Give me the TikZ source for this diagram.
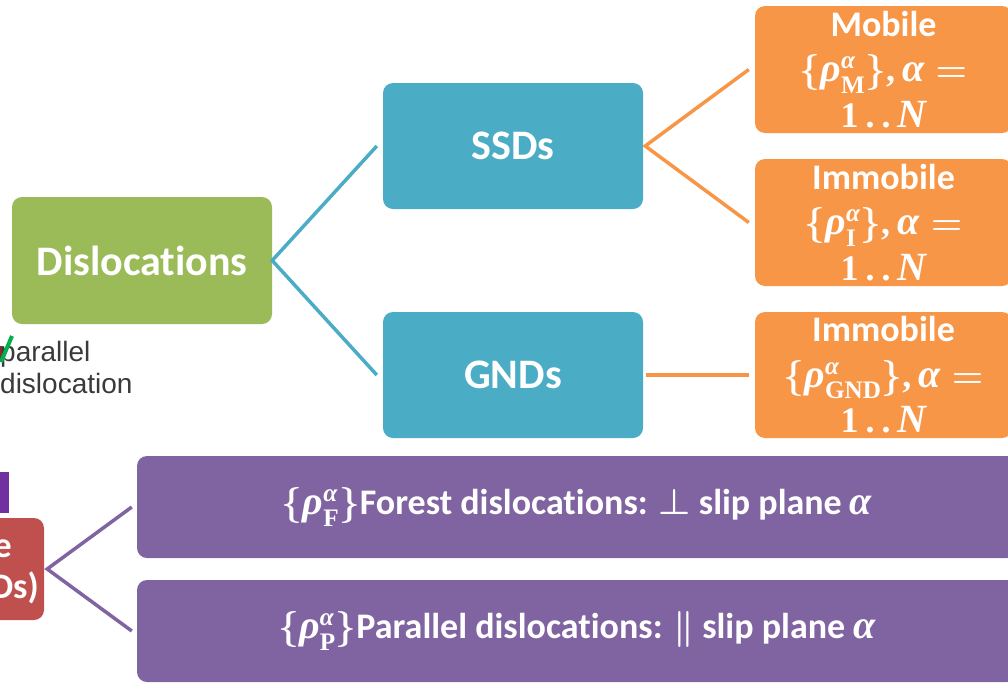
\documentclass[tikz,border=0pt]{standalone}
\usepackage{fix-cm}
\usepackage{amsmath}
\usepackage{bm}
\usepackage[no-math]{fontspec}
\setmainfont{Carlito}[Ligatures=NoCommon]
\newfontfamily\helv{Liberation Sans}
\newfontfamily\mserif{Liberation Serif}
\definecolor{cgreen}{HTML}{9BBB59}
\definecolor{cblue}{HTML}{4BACC6}
\definecolor{corange}{HTML}{F79646}
\definecolor{cpurple}{HTML}{8064A2}
\definecolor{cred}{HTML}{C0504D}
\definecolor{cviolet}{HTML}{7030A0}
\definecolor{cslash}{HTML}{00B050}
\definecolor{cgray}{HTML}{3A3A3A}
\definecolor{cdarkred}{HTML}{8B2A2A}
\newcommand{\gi}[1]{\text{\mserif\bfseries\itshape #1}}
\newcommand{\gI}[1]{\text{\mserif\bfseries\itshape\fontsize{40}{40}\selectfont #1}}
\newcommand{\gb}[1]{\text{\mserif\bfseries #1}}
\newcommand{\dens}[1]{\bm{\{}\gI{ρ}^{\gi{α}}_{\gb{#1}}\bm{\}}}
\newcommand{\rng}{\gb{,}\,\gI{α}\mathrel{\bm{=}}}
\newcommand{\oneN}{\gb{1}\,\gb{.}\,\gb{.}\,\gI{N}}
\begin{document}
\begin{tikzpicture}[x=1pt,y=-1pt,
  box/.style={rounded corners=10pt, inner sep=0pt, text=white, align=center},
  bigfont/.style={font=\fontsize{42}{50}\selectfont\bfseries},
  midfont/.style={font=\fontsize{36}{45.5}\selectfont\bfseries\boldmath},
  conn/.style={line width=3.5pt}
]
\useasboundingbox (0,0) rectangle (1008,683);
\clip (0,0) rectangle (1008,683);

% main boxes
\node[box, bigfont, fill=cgreen, minimum width=260pt, minimum height=127pt] (disl) at (142,260.5) {Dislocations};
\node[box, bigfont, fill=cblue, minimum width=260pt, minimum height=126pt] (ssd) at (513,146) {SSDs};
\node[box, bigfont, fill=cblue, minimum width=260pt, minimum height=126pt] (gnd) at (513,375) {GNDs};

\node[box, midfont, fill=corange, minimum width=257pt, minimum height=127pt] (mob) at (883.5,69.5)
  {Mobile\\$\dens{M}\rng$\\$\oneN$};
\node[box, midfont, fill=corange, minimum width=257pt, minimum height=127pt] (imm) at (883.5,222.5)
  {Immobile\\$\dens{I}\rng$\\$\oneN$};
\node[box, midfont, fill=corange, minimum width=257pt, minimum height=126pt] (immg) at (883.5,375)
  {Immobile\\$\dens{GND}\rng$\\$\oneN$};

\node[box, midfont, fill=cpurple, minimum width=880pt, minimum height=102pt] (forest) at (577,507)
  {$\dens{F}$Forest dislocations: $\perp$ slip plane $\gI{α}$};
\node[box, midfont, fill=cpurple, minimum width=880pt, minimum height=102pt] (par) at (577,631)
  {$\dens{P}$Parallel dislocations: $\bm{\|}$ slip plane $\gI{α}$};

% partially visible red box and bar
\node[box, fill=cred, minimum width=244pt, minimum height=102pt] (red) at (-78,569) {};
\node[midfont, text=white, anchor=base east, inner sep=0pt] (redA) at (12,557) {e};
\node[midfont, text=white, anchor=base east, inner sep=0pt] (redB) at (39,598) {Ds)};
\node[fill=cviolet, inner sep=0pt, minimum width=9pt, minimum height=41pt, anchor=north west] (bar) at (0,472) {};

% side note
\node[font=\helv\fontsize{28}{32}\selectfont, text=cgray, anchor=base west, align=left, inner sep=0pt] (note) at (0,393) {parallel\\dislocation};
\coordinate (sA) at (1,362);
\coordinate (sB) at (12,336);
\coordinate (rA) at (1,346);
\coordinate (rB) at (1,362);
\draw[line width=2pt, cdarkred] (rA) -- (rB);
\draw[line width=4pt, cslash] (sA) -- (sB);

% connectors
\draw[conn, cblue] ([xshift=-6pt]ssd.west) -- (disl.east) -- ([xshift=-6pt]gnd.west);
\draw[conn, corange] ([xshift=-6pt]mob.west) -- ([xshift=2pt]ssd.east) -- ([xshift=-6pt]imm.west);
\draw[conn, corange] ([xshift=3pt]gnd.east) -- ([xshift=-6pt]immg.west);
\draw[conn, cpurple] ([xshift=-5pt]forest.west) -- ([xshift=3pt]red.east) -- ([xshift=-5pt]par.west);
\end{tikzpicture}
\end{document}
